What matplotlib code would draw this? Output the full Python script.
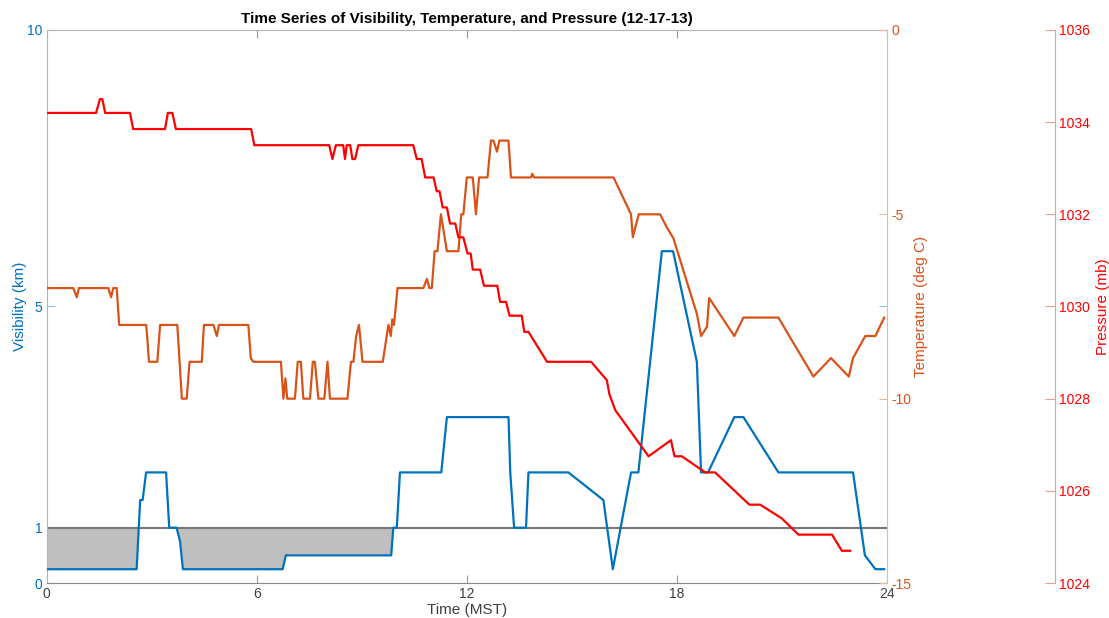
import matplotlib.pyplot as plt
import numpy as np

# Weather station record, 12-17-13 (hours MST)

# visibility (km)
vis_hours = [0, 2.57, 2.67, 2.74, 2.84, 3.41, 3.50, 3.71, 3.81, 3.89, 6.74, 6.83, 9.84, 9.90,
             10.0, 10.09, 11.27, 11.43, 13.19, 13.24, 13.35, 13.69, 13.76, 14.9, 15.9, 16.17,
             16.69, 16.9, 17.57, 17.89, 18.57, 18.69, 18.89, 19.64, 19.9, 20.9, 23.03, 23.37,
             23.67, 23.92]
visibility = [0.25, 0.25, 1.5, 1.5, 2.0, 2.0, 1.0, 1.0, 0.75, 0.25, 0.25, 0.5, 0.5, 1.0,
              1.0, 2.0, 2.0, 3.0, 3.0, 2.0, 1.0, 1.0, 2.0, 2.0, 1.5, 0.25,
              2.0, 2.0, 6.0, 6.0, 4.0, 2.0, 2.0, 3.0, 3.0, 2.0, 2.0, 0.5,
              0.25, 0.25]

# temperature (deg C)
temp_hours = [0, 0.76, 0.86, 0.92, 1.76, 1.84, 1.90, 2.0, 2.07, 2.84, 2.87, 2.92, 3.16, 3.24,
              3.73, 3.79, 3.86, 4.0, 4.08, 4.43, 4.49, 4.76, 4.86, 4.92, 5.76, 5.83, 5.90,
              6.69, 6.76, 6.82, 6.87, 7.09, 7.17, 7.26, 7.33, 7.52, 7.60, 7.66, 7.76, 7.93,
              8.02, 8.09, 8.59, 8.69, 8.76, 8.84, 8.92, 9.02, 9.60, 9.76, 9.83, 9.87, 9.92,
              10.02, 10.76, 10.86, 10.93, 11.0, 11.08, 11.16, 11.26, 11.43, 11.76, 11.84, 11.9,
              12.0, 12.17, 12.26, 12.35, 12.59, 12.69, 12.76, 12.86, 12.93, 13.19, 13.26, 13.83,
              13.87, 13.92, 16.19, 16.69, 16.74, 16.91, 17.52, 17.71, 17.9, 18.57, 18.69, 18.86,
              18.92, 19.64, 19.9, 20.9, 21.24, 21.9, 22.4, 22.91, 23.03, 23.38, 23.67, 23.92]
temperature = [-7, -7, -7.25, -7, -7, -7.25, -7, -7, -8, -8, -8.3, -9, -9, -8,
               -8, -8.9, -10, -10, -9, -9, -8, -8, -8.3, -8, -8, -8.9, -9,
               -9, -10, -9.45, -10, -10, -9, -9, -10, -10, -9, -9, -10, -10,
               -9, -10, -10, -9, -9, -8.3, -8, -9, -9, -8, -8.3, -7.85, -8.0,
               -7, -7, -6.75, -7, -7, -6, -6, -5, -6, -6, -5, -5,
               -4, -4, -5, -4, -4, -3, -3, -3.3, -3, -3, -4, -4,
               -3.9, -4, -4, -5, -5.62, -5, -5, -5.35, -5.65, -7.7, -8.3, -8.05,
               -7.27, -8.3, -7.8, -7.8, -8.35, -9.4, -8.9, -9.4, -8.9, -8.3, -8.3, -7.8]

# pressure (mb)
pres_hours = [0, 1.41, 1.52, 1.59, 1.67, 2.38, 2.47, 3.38, 3.46, 3.59, 3.69, 5.84, 5.93,
              8.07, 8.16, 8.26, 8.47, 8.52, 8.57, 8.67, 8.73, 8.81, 8.90, 10.47, 10.57, 10.71,
              10.81, 11.05, 11.14, 11.22, 11.31, 11.43, 11.52, 11.67, 11.76, 11.90, 12.02, 12.11,
              12.17, 12.38, 12.49, 12.87, 12.95, 13.12, 13.22, 13.57, 13.64, 13.76, 14.29, 15.55,
              16.0, 16.07, 16.24, 17.19, 17.83, 17.93, 18.14, 18.81, 19.09, 20.07, 20.38, 21.0,
              21.47, 22.43, 22.71, 22.95]
pressure = [1034.2, 1034.2, 1034.5, 1034.5, 1034.2, 1034.2, 1033.85, 1033.85, 1034.2, 1034.2,
            1033.85, 1033.85, 1033.5, 1033.5, 1033.2, 1033.5, 1033.5, 1033.2, 1033.5, 1033.5,
            1033.2, 1033.2, 1033.5, 1033.5, 1033.2, 1033.2, 1032.8, 1032.8, 1032.5, 1032.5,
            1032.15, 1032.15, 1031.8, 1031.8, 1031.5, 1031.5, 1031.15, 1031.15, 1030.8, 1030.8,
            1030.45, 1030.45, 1030.1, 1030.1, 1029.8, 1029.8, 1029.45, 1029.45, 1028.8, 1028.8,
            1028.4, 1028.1, 1027.75, 1026.75, 1027.1, 1026.75, 1026.75, 1026.4, 1026.4, 1025.7,
            1025.7, 1025.4, 1025.05, 1025.05, 1024.7, 1024.7]

vis_threshold = 1.0
fog_until = 10.0

hour_ticks = [0, 6, 12, 18, 24]
vis_ticks = [0, 1, 5, 10]
temp_ticks = [-15, -10, -5, 0]
pres_ticks = [1024, 1026, 1028, 1030, 1032, 1034, 1036]

BLUE = '#0072BD'
ORANGE = '#D95319'
RED = '#FF0000'

plt.rcParams['font.family'] = ['Liberation Sans', 'DejaVu Sans']
plt.rcParams['axes.unicode_minus'] = False

fig = plt.figure(figsize=(11.09, 6.18), dpi=100)
ax = fig.add_axes([0.0421, 0.0566, 0.7577, 0.8949])
ax2 = ax.twinx()
ax3 = ax.twinx()

t_v = np.array(vis_hours)
v = np.array(visibility)

# shade the low-visibility stretch (fog) under the 1 km line
ax.fill_between(t_v, v, vis_threshold, where=(t_v <= fog_until) & (v <= vis_threshold),
                interpolate=True, color='#bfbfbf', linewidth=0, zorder=1)
ax.axhline(vis_threshold, color='#777777', linewidth=1.5, zorder=2)
ax.plot(t_v, v, color=BLUE, linewidth=1.6, zorder=3)
ax2.plot(temp_hours, temperature, color=ORANGE, linewidth=1.6)
ax3.plot(pres_hours, pressure, color=RED, linewidth=1.6)

ax.set_xlim(0, 24)
ax.set_ylim(0, 10)
ax2.set_ylim(-15, 0)
ax3.set_ylim(1024, 1036)

ax.set_xticks(hour_ticks)
ax.set_yticks(vis_ticks)
ax2.set_yticks(temp_ticks)
ax3.set_yticks(pres_ticks)

# spines
ax.spines['left'].set_color('#8cc1e3')
ax.spines['top'].set_color('#b5b5b5')
ax.spines['bottom'].set_color('#888888')
ax.spines['right'].set_visible(False)
for s in ['left', 'top', 'bottom']:
    ax2.spines[s].set_visible(False)
    ax3.spines[s].set_visible(False)
ax2.spines['right'].set_color('#f2b497')
ax3.spines['right'].set_position(('axes', 1.2))
ax3.spines['right'].set_color('#f29a9a')

ax.tick_params(axis='x', direction='in', top=True, length=6, colors='#999999',
               labelcolor='#404040', labelsize=10, pad=3)
ax.tick_params(axis='y', direction='in', right=True, length=6, colors='#8cc1e3',
               labelcolor=BLUE, labelsize=10, pad=3)
ax2.tick_params(axis='y', direction='in', length=6, colors='#f2b497',
                labelcolor=ORANGE, labelsize=10, pad=3)
ax3.tick_params(axis='y', direction='in', length=7, colors='#f29a9a',
                labelcolor=RED, labelsize=10, pad=3)

ax.set_xlabel('Time (MST)', fontsize=11, color='#404040', labelpad=1)
ax.set_ylabel('Visibility (km)', fontsize=11, color=BLUE, labelpad=0)
ax2.set_ylabel('Temperature (deg C)', fontsize=11, color=ORANGE, labelpad=2)
ax3.set_ylabel('Pressure (mb)', fontsize=11, color=RED, labelpad=4)
ax.set_title('Time Series of Visibility, Temperature, and Pressure (12-17-13)',
             fontsize=11, fontweight='bold', pad=5)

fig.savefig('out.png', dpi=100)
